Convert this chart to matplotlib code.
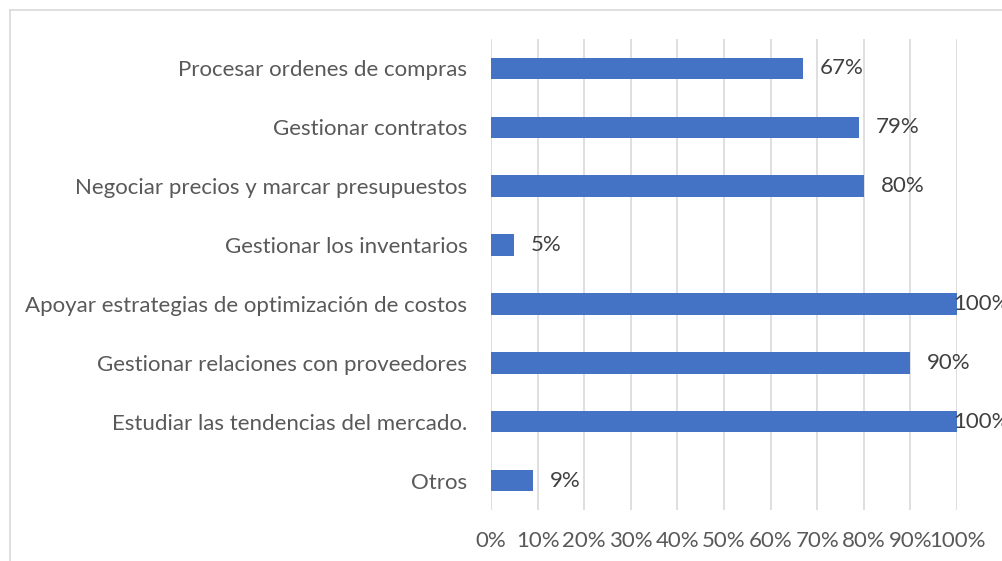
import matplotlib
matplotlib.use("Agg")
import matplotlib.pyplot as plt
from matplotlib.lines import Line2D

categories = [
    "Procesar ordenes de compras",
    "Gestionar contratos",
    "Negociar precios y marcar presupuestos",
    "Gestionar los inventarios",
    "Apoyar estrategias de optimización de costos",
    "Gestionar relaciones con proveedores",
    "Estudiar las tendencias del mercado.",
    "Otros",
]
values = [67, 79, 80, 5, 100, 90, 100, 9]
xticks = list(range(0, 101, 10))
xticklabels = [f"{t}%" for t in xticks]

plt.rcParams['font.family'] = ['Lato', 'DejaVu Sans']
W, H = 1002, 561
FS = 16
fig = plt.figure(figsize=(W / 100, H / 100), dpi=100)
ax = fig.add_axes([491 / W, 1 - 510 / H, (957 - 491) / W, (510 - 39) / H])

n = len(categories)
ypos = list(range(n))[::-1]
ax.barh(ypos, values, height=0.365, color="#4472C4", zorder=3)
ax.set_ylim(-0.5, n - 0.5)
ax.set_xlim(0, 100)
ax.set_yticks(ypos)
ax.set_yticklabels(categories)
ax.set_xticks(xticks)
ax.set_xticklabels(xticklabels)
ax.tick_params(axis='y', length=0, pad=17, labelsize=FS, labelcolor="#595959")
ax.tick_params(axis='x', length=0, pad=15, labelsize=FS, labelcolor="#595959")
ax.grid(axis='x', color="#d9d9d9", linewidth=1.2, zorder=0)
for s in ax.spines.values():
    s.set_visible(False)

for y, v in zip(ypos, values):
    xpix = ax.transData.transform((v, 0))[0]
    off = 12 if xpix + 12 + 50 < W else -3
    ax.annotate(f"{v}%", (v, y), xytext=(off, 0), textcoords='offset points',
                ha='left', va='center', fontsize=FS, color="#404040", zorder=4,
                annotation_clip=False)

# chart-area border (partially cropped)
bc = "#d9d9d9"
fig.add_artist(Line2D([10 / W, 10 / W], [0, 1 - 9.5 / H], transform=fig.transFigure, color=bc, lw=1.2))
fig.add_artist(Line2D([10 / W, 1], [1 - 9.5 / H, 1 - 9.5 / H], transform=fig.transFigure, color=bc, lw=1.2))

fig.savefig("out.png", dpi=100)
